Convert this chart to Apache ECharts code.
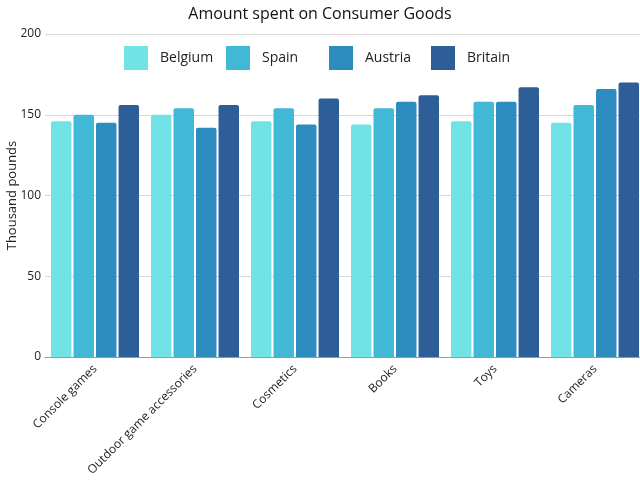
<!DOCTYPE html>
<html>
<head>
<meta charset="utf-8">
<script src="https://cdn.jsdelivr.net/npm/echarts@6/dist/echarts.min.js"></script>
<style>html,body{margin:0;padding:0;background:#fff}#c{width:640px;height:480px}</style>
</head>
<body>
<div id="c"></div>
<script>
const categories = ['Console games', 'Outdoor game accessories', 'Cosmetics', 'Books', 'Toys', 'Cameras'];
const belgium = [146, 150, 146, 144, 146, 145];
const spain = [150, 154, 154, 154, 158, 156];
const austria = [145, 142, 144, 158, 158, 166];
const britain = [156, 156, 160, 162, 167, 170];
const seriesNames = ['Belgium', 'Spain', 'Austria', 'Britain'];
const colors = ['#6FE3E6', '#41B8D6', '#2C8CBF', '#2D5E98'];
const yTicks = [0, 50, 100, 150, 200];

const font = 'Open Sans';
const chart = echarts.init(document.getElementById('c'));
const data = [belgium, spain, austria, britain];
const legendLefts = [119, 221, 324, 426];
chart.setOption({
  animation: false,
  title: {
    text: 'Amount spent on Consumer Goods',
    left: 'center', top: 1,
    textStyle: {fontFamily: font, fontSize: 16, fontWeight: 500, color: '#111'}
  },
  legend: seriesNames.map((n, i) => ({
    left: legendLefts[i], top: 41,
    itemWidth: 24, itemHeight: 24,
    icon: 'rect',
    data: [n],
    textStyle: {fontFamily: font, fontSize: 14, fontWeight: 500, color: '#222', padding: [0, 0, 0, 7]}
  })),
  grid: {left: 45, width: 600, top: 34, bottom: 123, containLabel: false, outerBoundsMode: 'none'},
  xAxis: {
    type: 'category', data: categories,
    axisTick: {show: false},
    axisLine: {lineStyle: {color: '#999'}},
    axisLabel: {rotate: 45, fontFamily: font, fontSize: 12, color: '#222', interval: 0, margin: 10}
  },
  yAxis: {
    type: 'value', min: yTicks[0], max: yTicks[yTicks.length - 1], interval: 50,
    name: 'Thousand pounds', nameLocation: 'middle', nameGap: 26, nameMoveOverlap: false,
    nameTextStyle: {fontFamily: font, fontSize: 13, fontWeight: 500, color: '#222'},
    axisLine: {show: false}, axisTick: {show: false},
    axisLabel: {fontFamily: font, fontSize: 12, fontWeight: 500, color: '#222', margin: 4},
    splitLine: {lineStyle: {color: '#d8d8d8'}}
  },
  series: seriesNames.map((n, i) => ({
    name: n, type: 'bar', data: data[i],
    barGap: '10%', barCategoryGap: '12%',
    itemStyle: {color: colors[i], borderRadius: [2, 2, 0, 0]}
  }))
});
</script>
</body>
</html>
